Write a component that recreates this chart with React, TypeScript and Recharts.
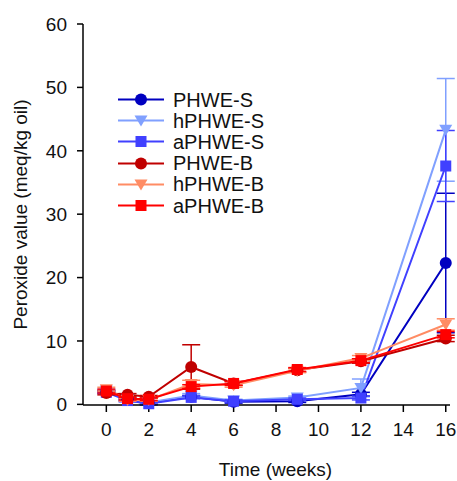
import React from 'react';
import { LineChart, Line, XAxis, YAxis, ErrorBar, Legend } from 'recharts';

const weeks = [0, 1, 2, 4, 6, 9, 12, 16];

const seriesNames = ['PHWE-S', 'hPHWE-S', 'aPHWE-S', 'PHWE-B', 'hPHWE-B', 'aPHWE-B'];
const seriesColors = ['#0000c0', '#80a0ff', '#4040ff', '#c00000', '#ff8c64', '#ff0000'];
const seriesShapes = ['circle', 'triangle', 'square', 'circle', 'triangle', 'square'];

const phweS = [2.0, 0.8, 0.2, 1.2, 0.4, 0.5, 1.6, 22.3];
const hphweS = [2.2, 0.9, 0.3, 1.4, 0.6, 1.1, 2.6, 43.3];
const aphweS = [1.9, 0.6, 0.1, 1.1, 0.5, 0.8, 1.0, 37.6];
const phweB = [1.8, 1.5, 1.2, 5.9, 3.3, 5.4, 6.8, 10.4];
const hphweB = [2.4, 0.7, 0.7, 3.2, 3.0, 5.3, 7.3, 12.6];
const aphweB = [2.1, 0.9, 0.8, 2.8, 3.3, 5.5, 6.9, 11.0];

const phweSErr = [0.2, 0.2, 0.2, 0.2, 0.2, 0.2, 0.3, 11.0];
const hphweSErr = [0.2, 0.2, 0.2, 0.3, 0.2, 0.2, 1.4, 8.1];
const aphweSErr = [0.2, 0.2, 0.2, 0.2, 0.2, 0.2, 0.3, 5.6];
const phweBErr = [0.3, 0.2, 0.2, 3.5, 0.3, 0.3, 0.3, 0.5];
const hphweBErr = [0.3, 0.2, 0.2, 0.6, 0.3, 0.3, 0.4, 0.9];
const aphweBErr = [0.3, 0.2, 0.2, 0.3, 0.3, 0.3, 0.3, 0.5];

const yTicks = [0, 10, 20, 30, 40, 50, 60];
const xTicks = [0, 2, 4, 6, 8, 10, 12, 14, 16];

const values = [phweS, hphweS, aphweS, phweB, hphweB, aphweB];
const errors = [phweSErr, hphweSErr, aphweSErr, phweBErr, hphweBErr, aphweBErr];

const data = weeks.map((w, i) => {
  const row: Record<string, number> = { week: w };
  seriesNames.forEach((name, s) => {
    row[name] = values[s][i];
    row[name + '_err'] = errors[s][i];
  });
  return row;
});

const font = '"Liberation Sans", Arial, sans-serif';
const fs = 19;

function Marker({ shape, cx, cy, color }: { shape: string; cx: number; cy: number; color: string }) {
  if (shape === 'circle') return <circle cx={cx} cy={cy} r={6} fill={color} />;
  if (shape === 'square') return <rect x={cx - 5.5} y={cy - 5.5} width={11} height={11} fill={color} />;
  return <polygon points={`${cx - 6.5},${cy - 5} ${cx + 6.5},${cy - 5} ${cx},${cy + 6}`} fill={color} />;
}

function LegendBox() {
  return (
    <div style={{ fontFamily: font, fontSize: 20, color: '#111', lineHeight: 1 }}>
      {seriesNames.map((name, i) => (
        <div key={name} style={{ display: 'flex', alignItems: 'center', height: 21.2 }}>
          <svg width={46} height={21}>
            <line x1={0} y1={10.5} x2={46} y2={10.5} stroke={seriesColors[i]} strokeWidth={2} />
            <Marker shape={seriesShapes[i]} cx={23} cy={10.5} color={seriesColors[i]} />
          </svg>
          <span style={{ marginLeft: 9 }}>{name}</span>
        </div>
      ))}
    </div>
  );
}

export default function App() {
  const tick = { fontFamily: font, fontSize: fs, fill: '#111' };
  return (
    <div style={{ position: 'absolute', left: 0, top: 0, background: '#fff' }}>
      <LineChart
        width={457}
        height={481}
        data={data}
        margin={{ top: 24, right: 7, bottom: 46, left: 0 }}
      >
        <XAxis
          dataKey="week"
          type="number"
          domain={[-1.1, 16.2]}
          ticks={xTicks}
          tick={tick}
          tickSize={7}
          tickMargin={11}
          stroke="#000"
          strokeWidth={1.5}
          height={30}
          label={{
            value: 'Time (weeks)',
            position: 'bottom',
            offset: 28,
            dx: 9,
            style: { fontFamily: font, fontSize: fs, fill: '#111' },
          }}
        />
        <YAxis
          type="number"
          domain={[0, 60]}
          ticks={yTicks}
          tick={tick}
          tickSize={6}
          tickMargin={10}
          stroke="#000"
          strokeWidth={1.5}
          width={83}
          label={{
            value: 'Peroxide value (meq/kg oil)',
            angle: -90,
            position: 'insideLeft',
            offset: 20,
            style: { textAnchor: 'middle', fontFamily: font, fontSize: fs, fill: '#111' },
          }}
        />
        <Legend
          layout="vertical"
          align="center"
          verticalAlign="middle"
          wrapperStyle={{ left: 118, top: 89, width: 'auto', height: 'auto' }}
          content={() => <LegendBox />}
        />
        {seriesNames.map((name, i) => (
          <Line
            key={name}
            dataKey={name}
            type="linear"
            stroke={seriesColors[i]}
            strokeWidth={2}
            isAnimationActive={false}
            dot={(p: any) => (
              <Marker key={`${name}-${p.index}`} shape={seriesShapes[i]} cx={p.cx} cy={p.cy} color={seriesColors[i]} />
            )}
            activeDot={false}
          >
            <ErrorBar dataKey={name + '_err'} width={9} stroke={seriesColors[i]} strokeWidth={1.5} direction="y" />
          </Line>
        ))}
      </LineChart>
    </div>
  );
}
